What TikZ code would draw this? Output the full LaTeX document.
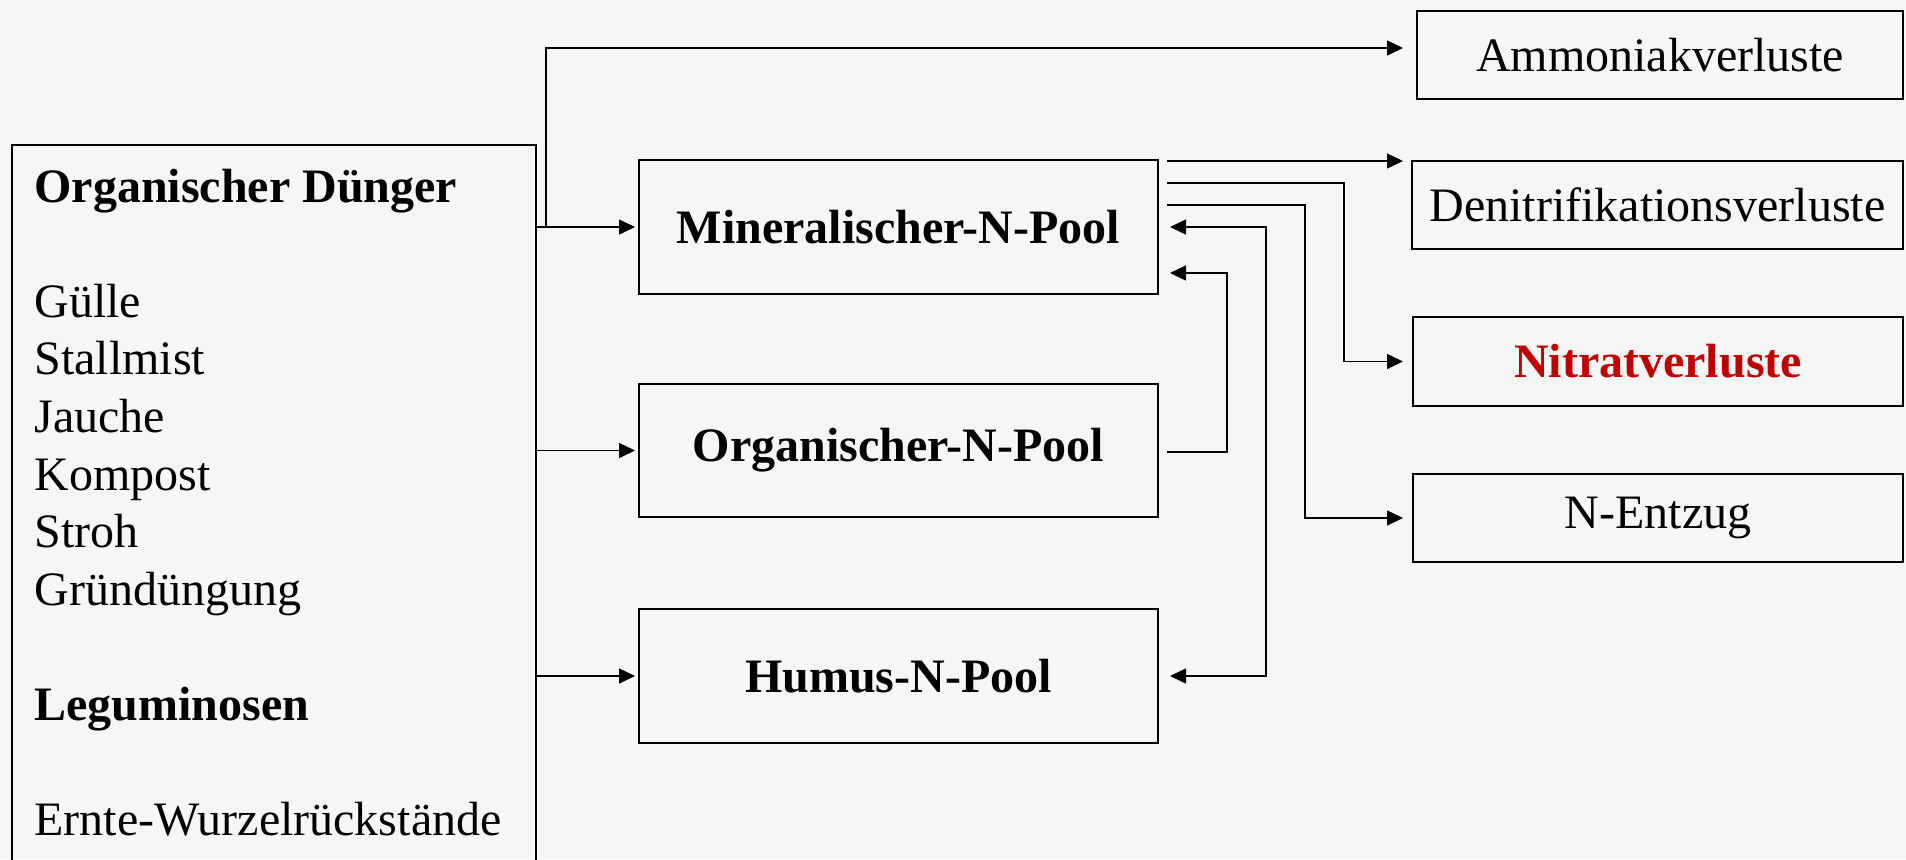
\documentclass[tikz,border=0pt]{standalone}
\usepackage{fontspec}
\setmainfont{Liberation Serif}
\usetikzlibrary{arrows.meta}
\definecolor{bg}{RGB}{246,246,246}
\definecolor{nred}{RGB}{192,0,0}
\begin{document}
\begin{tikzpicture}[x=0.5pt,y=-0.5pt,
  txt/.style={font=\fontsize{24}{28.8}\selectfont},
  pool/.style={draw, line width=1pt, outer sep=0pt, inner sep=0pt,
    minimum width=259.5pt, minimum height=67pt, txt, font=\fontsize{24}{28.8}\selectfont\bfseries},
  loss/.style={draw, line width=0.75pt, outer sep=0pt, inner sep=0pt,
    minimum width=245pt, minimum height=44pt, txt},
  ltext/.style={anchor=base west, inner sep=0pt, txt},
  conn/.style={line width=0.75pt, -{Triangle[length=8pt,width=7.5pt]}},
  conn2/.style={line width=0.75pt, {Triangle[length=8pt,width=7.5pt]}-{Triangle[length=8pt,width=7.5pt]}}
]
\fill[bg] (0,0) rectangle (1906,859);
\useasboundingbox (0,0) rectangle (1906,859);

% source box
\node[draw, line width=0.7pt, outer sep=0pt, inner sep=0pt,
  minimum width=262pt, minimum height=377.5pt] (src) at (274,522.5) {};
\node[ltext, font=\fontsize{24}{28.8}\selectfont\bfseries] (t1) at (34,202) {Organischer Dünger};
\node[ltext] (t2) at (34,317.2) {Gülle};
\node[ltext] (t3) at (34,374.8) {Stallmist};
\node[ltext] (t4) at (34,432.4) {Jauche};
\node[ltext] (t5) at (34,490) {Kompost};
\node[ltext] (t6) at (34,547.6) {Stroh};
\node[ltext] (t7) at (34,605.2) {Gründüngung};
\node[ltext, font=\fontsize{24}{28.8}\selectfont\bfseries] (t8) at (34,720.4) {Leguminosen};
\node[ltext] (t9) at (34,835.6) {Ernte-Wurzelrückstände};

% pools
\node[pool] (mp) at (898.5,227) {Mineralischer-N-Pool};
\node[pool, minimum height=66.5pt] (op) at (898.5,450.5) {\raisebox{-2pt}{Organischer-N-Pool}};
\node[pool] (hp) at (898.5,676) {Humus-N-Pool};

% losses
\node[loss, minimum width=243pt] (am) at (1660,55) {Ammoniakverluste};
\node[loss, minimum width=245.5pt] (dn) at (1657.5,205) {Denitrifikationsverluste};
\node[loss, minimum height=44.5pt, text=nred, font=\fontsize{24}{28.8}\selectfont\bfseries] (nt) at (1658,361.5) {Nitratverluste};
\node[loss] (ne) at (1658,518) {N-Entzug};

% bend coordinates
\coordinate (kb) at (546,227);
\coordinate (kn) at (1344,300);
\coordinate (ke) at (1305,300);
\coordinate (kh) at (1266,450);
\coordinate (ko) at (1227,350);

% inputs
\draw[conn, shorten >=2pt] (src.east |- mp.west) -- (mp.west);
\draw[conn, shorten >=2pt] (src.east |- op.west) -- (op.west);
\draw[conn, shorten >=2pt] (src.east |- hp.west) -- (hp.west);
\draw[conn] (kb) |- ([xshift=-7pt,yshift=3.5pt]am.west);

% outputs of mineral pool
\draw[conn] ([xshift=4.5pt,yshift=-0.5pt]mp.north east) -- ([xshift=-4.5pt]dn.north west);
\draw[conn] ([xshift=4.5pt,yshift=-11.5pt]mp.north east) -| (kn |- nt.west) -- ([xshift=-5pt]nt.west);
\draw[conn] ([xshift=4.5pt,yshift=-22.5pt]mp.north east) -| (ke |- ne.west) -- ([xshift=-5pt]ne.west);

% mineral <-> humus
\draw[conn2] ([xshift=6pt]mp.east) -| (kh) |- ([xshift=6pt]hp.east);
% organic -> mineral
\draw[conn] ([xshift=4.5pt,yshift=-0.75pt]op.east) -| (ko) |- ([xshift=6pt,yshift=-23pt]mp.east);
\end{tikzpicture}
\end{document}
